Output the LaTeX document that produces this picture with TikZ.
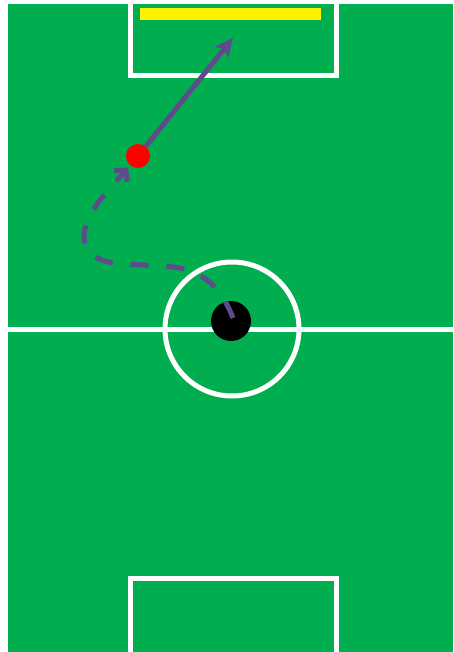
\documentclass[tikz,border=0pt]{standalone}
\usetikzlibrary{arrows.meta}
\definecolor{pitch}{HTML}{00AD4F}
\definecolor{runpurple}{HTML}{5E4B8B}
\begin{document}
\begin{tikzpicture}[x=1pt,y=-1pt,
  fieldline/.style={white, line width=5pt},
  ballnode/.style={circle, fill=black, minimum size=40pt, inner sep=0pt},
  playernode/.style={circle, fill=red, minimum size=24pt, inner sep=0pt},
  goalbar/.style={fill=yellow},
  pass/.style={runpurple, line width=5pt, -{Stealth[length=18pt,width=17pt,inset=4pt]}},
  run/.style={runpurple, line width=5pt, dash pattern=on 18pt off 18pt,
    -{Straight Barb[length=8pt,width=17pt]}, shorten >=3pt}]
\useasboundingbox (0,0) rectangle (453,652);
\fill[white] (0,0) rectangle (453,652);
\fill[pitch] (8,4) rectangle (453,652);
\fill[goalbar] (140,8) rectangle (321,20);
\draw[fieldline] (130,4) -- (130,76) -- (336,76) -- (336,4);
\draw[fieldline] (130,652) -- (130,578) -- (336,578) -- (336,652);
\draw[fieldline] (8,329) -- (453,329);
\draw[fieldline] (232,329) circle[radius=67pt];
\node[ballnode] (ball) at (231,321) {};
\node[playernode] (player) at (138,156) {};
\coordinate (target) at (233,38);
\coordinate (runstart) at (233,318);
\draw[pass] (player) -- (target);
\draw[run] (runstart) .. controls (222,290) and (205,267) .. (160,266) -- (125,264)
  .. controls (75,262) and (76,232) .. (100,200) -- (player);
\end{tikzpicture}
\end{document}
